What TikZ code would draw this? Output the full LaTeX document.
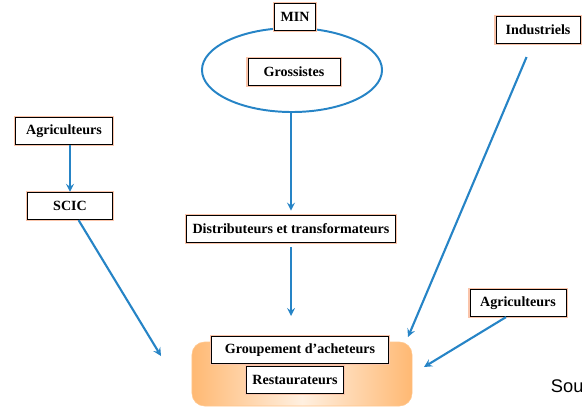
\documentclass[tikz,border=0pt]{standalone}
\usepackage{fontspec}
\setmainfont{Liberation Serif}
\setsansfont{Liberation Sans}
\usepackage{xcolor}
\usepackage{tikz}
\usetikzlibrary{shapes.geometric, arrows, positioning, calc}
\definecolor{flowblue}{RGB}{38,132,198}
\definecolor{glow}{RGB}{250,196,170}

\begin{document}
\begin{tikzpicture}[x=0.025cm, y=-0.025cm,
  actor/.style={rectangle, draw=black, line width=0.7pt, fill=white,
                minimum height=0.68cm, inner xsep=4pt,
                font=\fontsize{10}{11}\selectfont\bfseries,
                preaction={draw=glow, line width=2.6pt}},
  market/.style={ellipse, draw=flowblue, line width=1.4pt,
                 minimum width=4.5cm, minimum height=2.1cm},
  base/.style={rectangle, rounded corners=9pt, draw=orange!45,
               left color=orange!55, right color=orange!55,
               middle color=orange!12,
               minimum width=5.5cm, minimum height=1.6cm},
  arr/.style={->, >=stealth, flowblue, line width=1.5pt}
]
\useasboundingbox (0,0) rectangle (582,410);
\node[market] (mkt) at (292,70) {};
\node[actor] (min) at (295,17) {MIN};
\node[actor, minimum width=2.3cm] (gros) at (294,72) {Grossistes};
\node[actor] (dist) at (291,229) {Distributeurs et transformateurs};
\node[actor, minimum width=2.1cm] (ind) at (538,30) {Industriels};
\node[actor, minimum width=2.4cm] (agr1) at (64,131) {Agriculteurs};
\node[actor, minimum width=2.1cm] (scic) at (70,206) {SCIC};
\node[actor, minimum width=2.4cm] (agr2) at (518,303) {Agriculteurs};
\node[base] (buy) at (302,374) {};
\node[actor, minimum width=4.4cm] (grp) at (300,350) {Groupement d'acheteurs};
\node[actor, minimum width=2.3cm] (resto) at (295,380) {Restaurateurs};
\node[anchor=west, font=\sffamily\fontsize{13}{14}\selectfont] (src) at (546,386) {Sou};
\coordinate (e1) at (161,356);
\coordinate (e2) at (291,316);
\coordinate (e3) at (408,337);
\coordinate (e4) at (424,367);
\draw[arr] (scic.north |- agr1.south) -- (scic.north);
\draw[arr] (scic) -- (e1);
\draw[arr] (mkt.south -| dist.north) -- ([yshift=3pt]dist.north);
\draw[arr] ([yshift=-3pt]dist.south) -- (e2);
\draw[arr, shorten <=10pt] (ind) -- (e3);
\draw[arr] ([xshift=-0.3cm]agr2.south) -- (e4);
\end{tikzpicture}
\end{document}
